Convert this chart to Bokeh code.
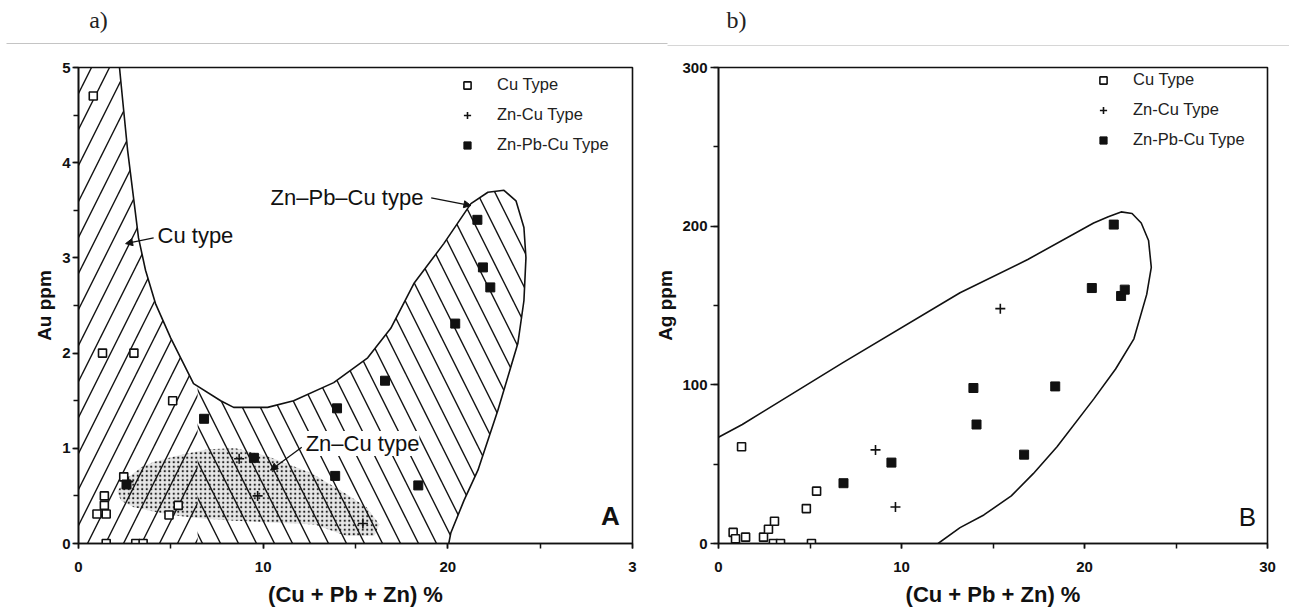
from bokeh.plotting import figure
from bokeh.layouts import row, column
from bokeh.models import (Label, Arrow, NormalHead, Legend, LegendItem,
                          SingleIntervalTicker, Range1d)
from bokeh.embed import file_html
from bokeh.resources import INLINE

FONT = "Liberation Sans"
INK = "#111111"

# ---------------- Panel a: Au (ppm) against Cu + Pb + Zn (%) ----------------
a_cu_x = [0.8, 1.3, 3.0, 5.1, 2.45, 1.4, 1.4, 1.0, 1.5, 5.4, 4.9, 1.5, 3.1, 3.5]
a_cu_y = [4.7, 2.0, 2.0, 1.5, 0.7, 0.5, 0.4, 0.31, 0.31, 0.4, 0.3, 0.0, 0.0, 0.0]
a_zncu_x = [2.7, 8.7, 9.7, 15.4]
a_zncu_y = [0.65, 0.89, 0.5, 0.21]
a_znpbcu_x = [2.6, 6.8, 9.5, 13.9, 14.0, 16.6, 18.4, 20.4, 21.6, 21.9, 22.3]
a_znpbcu_y = [0.62, 1.31, 0.9, 0.71, 1.42, 1.71, 0.61, 2.31, 3.40, 2.90, 2.69]

# outline of the barren (unhatched) U-shaped field, running from the top
# axis down the Cu-type side and round the Zn-Pb-Cu lobe to the x axis
u_x = [2.22, 2.38, 2.66, 2.93, 3.25, 3.63, 4.17, 4.99, 6.23, 7.70, 8.40,
       10.24, 11.65, 13.82, 15.66, 16.91, 18.16, 19.78, 21.25, 22.17, 23.04,
       23.69, 24.12, 24.23, 24.12, 23.79, 22.71, 21.63, 20.87, 20.16, 20.05]
u_y = [5.0, 4.68, 4.13, 3.71, 3.21, 2.87, 2.52, 2.16, 1.68, 1.50, 1.43,
       1.43, 1.50, 1.69, 1.95, 2.26, 2.73, 3.15, 3.57, 3.69, 3.71,
       3.60, 3.32, 3.00, 2.55, 2.10, 1.40, 0.77, 0.45, 0.11, 0.0]
split_x = 6.45      # where the Cu-type and Zn-Pb-Cu-type hatching meet
split_y = 1.65

# stippled Zn-Cu field
zncu_field_x = [2.1, 2.6, 3.4, 4.1, 5.5, 7.0, 8.5, 10.2, 12.6, 14.5, 15.6, 16.3,
                16.0, 14.5, 12.8, 10.4, 8.5, 6.8, 5.0, 4.0, 3.0, 2.3]
zncu_field_y = [0.55, 0.68, 0.80, 0.86, 0.93, 0.99, 1.0, 0.92, 0.74, 0.52, 0.38, 0.2,
                0.08, 0.08, 0.2, 0.22, 0.24, 0.26, 0.3, 0.34, 0.38, 0.45]

# ---------------- Panel b: Ag (ppm) against Cu + Pb + Zn (%) ----------------
b_cu_x = [1.26, 0.8, 0.93, 1.48, 2.46, 2.73, 3.06, 3.0, 3.39, 4.8, 5.36, 5.08]
b_cu_y = [61, 7, 3, 4, 4, 9, 14, 0, 0, 22, 33, 0]
b_zncu_x = [8.58, 9.67, 15.4]
b_zncu_y = [59, 23, 148]
b_znpbcu_x = [6.83, 9.45, 13.93, 14.1, 18.4, 16.7, 21.6, 20.4, 22.0, 22.2]
b_znpbcu_y = [38, 51, 98, 75, 99, 56, 201, 161, 156, 160]

env_b_x = [0, 1.3, 6.8, 13.2, 16.9, 20.5, 21.3, 22.0, 22.6, 23.1, 23.5, 23.65,
           23.4, 22.7, 21.7, 20.5, 18.5, 17.2, 16.0, 14.5, 13.2, 12.0]
env_b_y = [67, 75, 114, 158, 179, 202, 206, 209, 208, 202, 191, 174,
           157, 129, 110, 91, 61, 44, 30, 18, 10, 0]

legend_labels = ["Cu Type", "Zn-Cu Type", "Zn-Pb-Cu Type"]
panel_tags = ["a)", "b)"]

HEAD_H = 50


def make_fig(width, left, right, y_end, y_step, y_title, tick_out, tick_standoff, title_standoff):
    p = figure(width=width, height=612 - HEAD_H, x_range=Range1d(0, 30), y_range=Range1d(0, y_end),
               output_backend="svg", toolbar_location=None,
               min_border_left=left, min_border_right=right,
               min_border_top=67 - HEAD_H, min_border_bottom=69)
    p.grid.visible = False
    p.background_fill_color = "white"
    p.border_fill_color = "white"
    p.outline_line_color = INK
    p.outline_line_width = 1.6
    p.xaxis.ticker = SingleIntervalTicker(interval=10, num_minor_ticks=2)
    p.yaxis.ticker = SingleIntervalTicker(interval=y_step, num_minor_ticks=2)
    for ax in (p.xaxis[0], p.yaxis[0]):
        ax.axis_line_color = INK
        ax.axis_line_width = 1.6
        ax.major_tick_line_color = INK
        ax.minor_tick_line_color = INK
        ax.major_tick_line_width = 1.5
        ax.minor_tick_line_width = 1.5
        ax.major_tick_in = 0
        ax.minor_tick_in = 0
        ax.minor_tick_out = 5
        ax.major_label_text_font = FONT
        ax.major_label_text_font_style = "bold"
        ax.major_label_text_font_size = "15px"
        ax.major_label_text_color = INK
        ax.axis_label_text_font = FONT
        ax.axis_label_text_font_style = "bold"
        ax.axis_label_text_color = INK
    p.xaxis.major_tick_out = 5
    p.xaxis.major_label_standoff = 13
    p.xaxis.axis_label = "(Cu + Pb + Zn) %"
    p.xaxis.axis_label_text_font_size = "22px"
    p.xaxis.axis_label_standoff = 7
    p.yaxis.major_tick_out = tick_out
    p.yaxis.major_label_standoff = tick_standoff
    p.yaxis.axis_label = y_title
    p.yaxis.axis_label_text_font_size = "19px"
    p.yaxis.axis_label_standoff = title_standoff
    return p


def add_points(p, cx, cy, zx, zy, px, py, loc):
    r_cu = p.scatter(cx, cy, marker="square", size=8, fill_color="white",
                     line_color=INK, line_width=1.6)
    r_zc = p.scatter(zx, zy, marker="cross", size=10, line_color=INK, line_width=1.6)
    r_zp = p.scatter(px, py, marker="square", size=9, fill_color=INK, line_color=INK)
    legend = Legend(items=[LegendItem(label=legend_labels[0], renderers=[r_cu]),
                           LegendItem(label=legend_labels[1], renderers=[r_zc]),
                           LegendItem(label=legend_labels[2], renderers=[r_zp])],
                    location=loc, padding=0, margin=0, spacing=11,
                    glyph_width=20, glyph_height=18, label_height=18, label_standoff=20,
                    label_text_font=FONT, label_text_font_size="16.5px",
                    label_text_color="#222222", border_line_color=None,
                    background_fill_alpha=0)
    p.add_layout(legend)


# ---------------- header strip with the panel tags ----------------
head = figure(width=1289, height=HEAD_H, x_range=Range1d(0, 1289), y_range=Range1d(HEAD_H, 0),
              output_backend="svg", toolbar_location=None, x_axis_type=None, y_axis_type=None,
              min_border_left=0, min_border_right=0, min_border_top=0, min_border_bottom=0)
head.grid.visible = False
head.outline_line_color = None
head.line([6, 667], [43, 43], line_color="#c4c4c4", line_width=1)
head.line([667, 1289], [45, 45], line_color="#d6d6d6", line_width=1)
for tag, x in zip(panel_tags, [98, 736]):
    head.add_layout(Label(x=x, y=19, text=tag, text_font="Liberation Serif",
                          text_font_size="24px", text_align="center",
                          text_baseline="middle", text_color="#222222"))

# ---------------- panel a ----------------
pa = make_fig(650, 78, 18, 5, 1, "Au ppm", 6, 2, 4)
pa.xaxis.major_label_overrides = {30: "3"}

k = next(i for i, v in enumerate(u_x) if v > split_x)
cu_zone_x = [0, 0] + u_x[:k] + [split_x, split_x]
cu_zone_y = [0, 5] + u_y[:k] + [split_y, 0]
zp_zone_x = [split_x, split_x] + u_x[k:]
zp_zone_y = [0, split_y] + u_y[k:]

pa.patch(zncu_field_x, zncu_field_y, fill_color="#e6e6e6", line_color=None,
         hatch_pattern="dot", hatch_scale=4.5, hatch_color="#222222", hatch_weight=1.6)
pa.patch(cu_zone_x, cu_zone_y, fill_alpha=0, line_color=None,
         hatch_pattern="/", hatch_scale=36, hatch_color=INK, hatch_weight=1.4)
pa.patch(zp_zone_x, zp_zone_y, fill_alpha=0, line_color=None,
         hatch_pattern="\\", hatch_scale=36, hatch_color=INK, hatch_weight=1.4)
pa.line(u_x, u_y, line_color=INK, line_width=1.6)

add_points(pa, a_cu_x, a_cu_y, a_zncu_x, a_zncu_y, a_znpbcu_x, a_znpbcu_y, (379, 389))

for txt, x, y, bg in [("Cu type", 4.28, 3.24, None), ("Zn\u2013Pb\u2013Cu type", 10.4, 3.63, None),
                      ("Zn\u2013Cu type", 12.3, 1.05, "white")]:
    pa.add_layout(Label(x=x, y=y, text=txt, text_font=FONT, text_font_size="22px",
                        text_baseline="middle", text_color=INK,
                        background_fill_color=bg))
for xs, ys, xe, ye in [(4.07, 3.21, 2.55, 3.15), (19.1, 3.63, 21.25, 3.55),
                       (12.09, 1.01, 10.4, 0.77)]:
    pa.add_layout(Arrow(end=NormalHead(size=7, fill_color=INK, line_color=INK),
                        x_start=xs, y_start=ys, x_end=xe, y_end=ye,
                        line_color=INK, line_width=1.3))
pa.add_layout(Label(x=28.8, y=0.29, text="A", text_font=FONT, text_font_size="26px",
                    text_font_style="bold", text_align="center", text_baseline="middle",
                    text_color=INK))

# ---------------- panel b ----------------
pb = make_fig(639, 68, 22, 300, 100, "Ag ppm", 8, 3, 3)
pb.line(env_b_x, env_b_y, line_color=INK, line_width=1.6)
add_points(pb, b_cu_x, b_cu_y, b_zncu_x, b_zncu_y, b_znpbcu_x, b_znpbcu_y, (375, 394))
pb.add_layout(Label(x=28.9, y=17, text="B", text_font=FONT, text_font_size="26px",
                    text_align="center", text_baseline="middle", text_color=INK))

layout = column(head, row(pa, pb), spacing=0)
open("out.html", "w").write(file_html(layout, INLINE))
